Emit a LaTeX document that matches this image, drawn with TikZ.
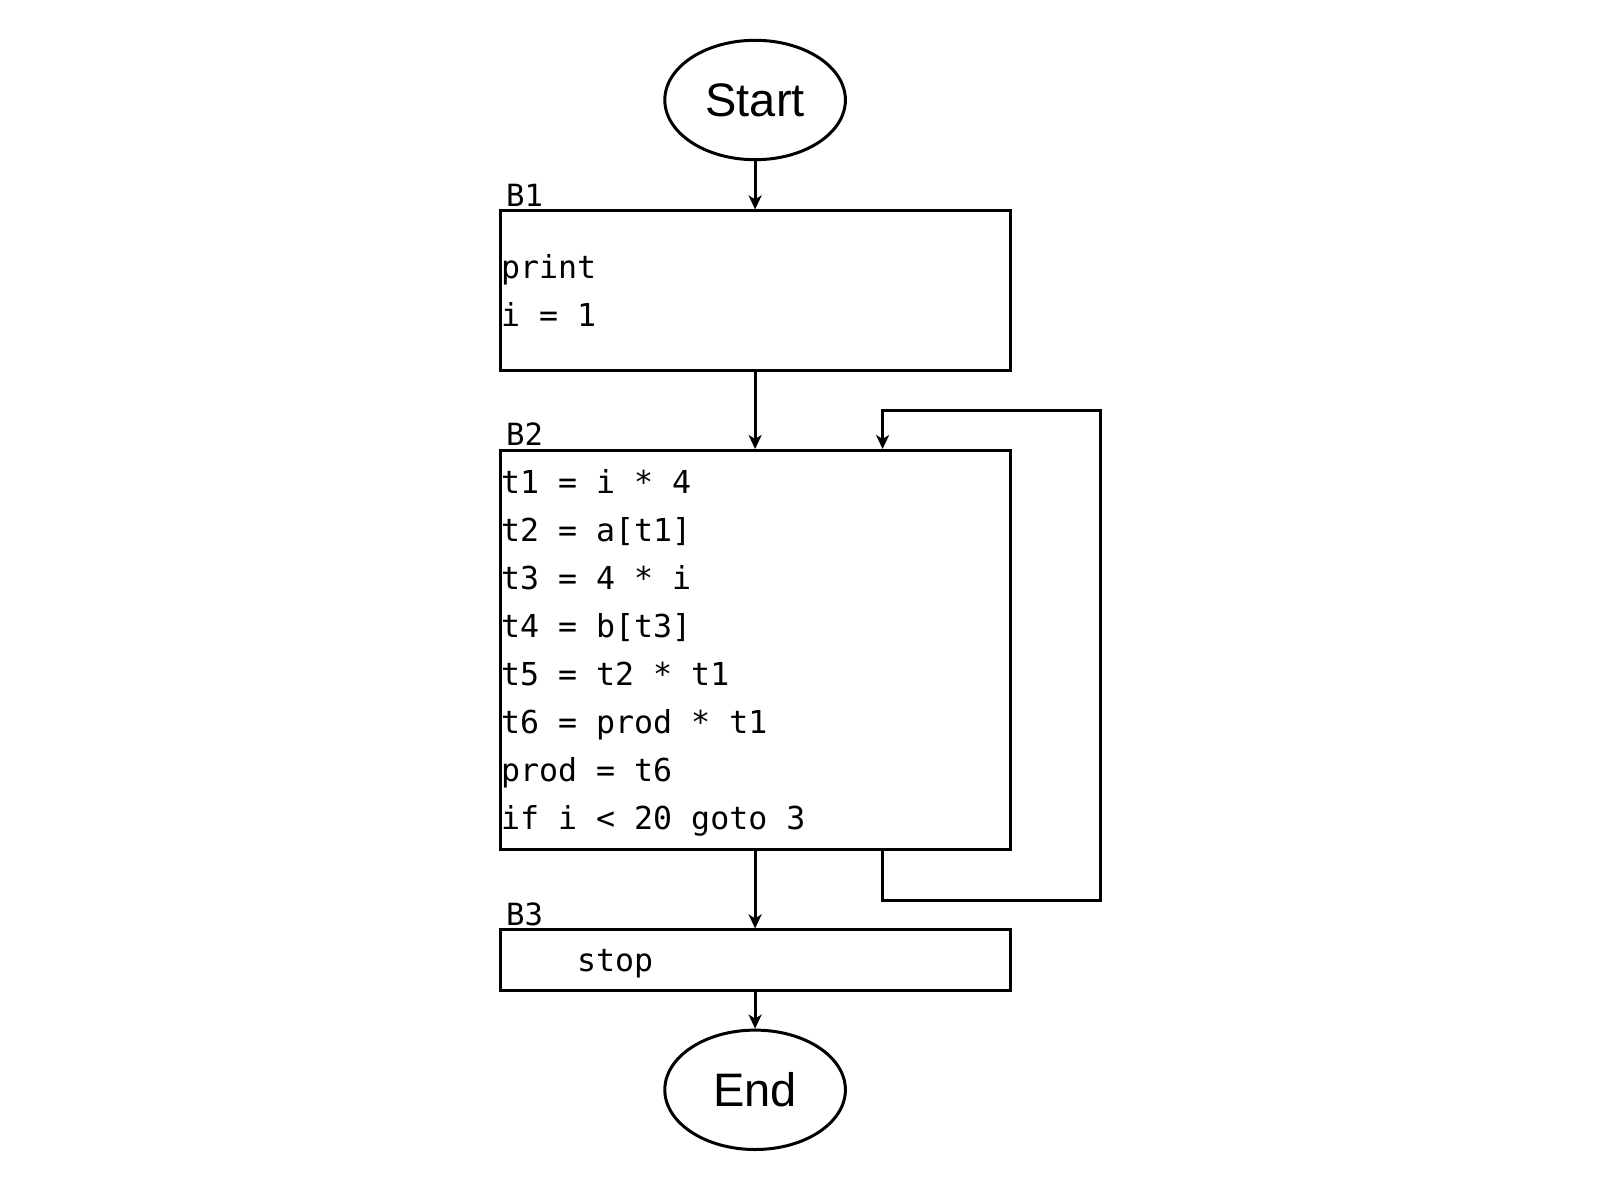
\documentclass[tikz,border=0pt]{standalone}
\usepackage{fontspec}
\setmainfont{Liberation Sans}
\newfontfamily\codefont{DejaVu Sans Mono}
\newcommand\msp{\hphantom{0}}
\usetikzlibrary{shapes.geometric,arrows.meta}
\tikzset{
  conn/.style={line width=3pt},
  arr/.style={conn,-{Stealth[length=14pt,width=13pt,inset=4pt]}},
  terminal/.style={draw,line width=3pt,ellipse,minimum width=180.6pt,minimum height=119.4pt,inner sep=0pt,font=\fontsize{47}{52}\selectfont},
  codebox/.style={draw,line width=3pt,rectangle,minimum width=510.2pt,text width=508.2pt,inner xsep=1pt,inner ysep=0pt,align=left,font=\codefont\fontsize{31.6}{48}\selectfont},
  blabel/.style={anchor=base west,inner sep=0pt,font=\codefont\fontsize{30.6}{36}\selectfont}
}
\begin{document}
\begin{tikzpicture}[x=1pt,y=-1pt]
\useasboundingbox[fill=white] (0,0) rectangle (1600,1181);
\node[terminal] (start) at (755.1,100) {Start};
\node[codebox,minimum height=159.2pt] (b1) at (755.1,290.5) {print\\i\msp=\msp1};
\node[blabel] (l1) at (506,206.1) {B1};
\node[codebox,minimum height=399pt] (b2) at (755.1,650) {\rule{0pt}{29pt}t1\msp=\msp i\msp*\msp4\\t2\msp=\msp a[t1]\\t3\msp=\msp4\msp*\msp i\\t4\msp=\msp b[t3]\\t5\msp=\msp t2\msp*\msp t1\\t6\msp=\msp prod\msp*\msp t1\\prod\msp=\msp t6\\if\msp i\msp<\msp20\msp goto\msp3};
\node[blabel] (l2) at (506,445.9) {B2};
\node[codebox,minimum height=60.2pt] (b3) at (755.1,960) {\rule{0pt}{29pt}\msp\msp\msp\msp stop};
\node[blabel] (l3) at (506,925.5) {B3};
\node[terminal] (end) at (755.1,1089.8) {End};
\coordinate (lx) at (882.6,0);
\coordinate (lbot) at (1100,900);
\coordinate (ltop) at (1100,410.2);
\draw[arr] (start) -- (b1);
\draw[arr] (b1) -- (b2);
\draw[arr] (b2) -- (b3);
\draw[arr] (b3) -- (end);
\draw[arr] (b2.south -| lx) |- (lbot) -- (ltop) -| (b2.north -| lx);
\end{tikzpicture}
\end{document}
